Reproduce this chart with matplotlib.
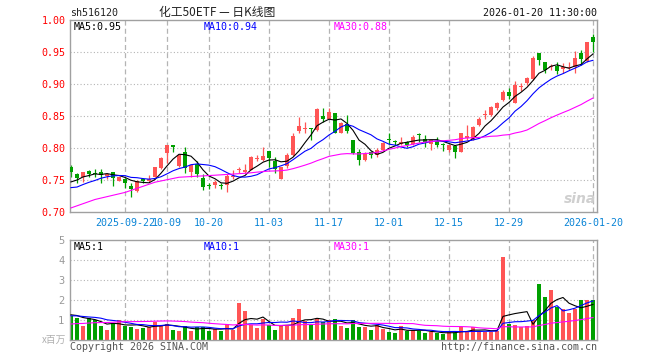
import matplotlib
matplotlib.use("Agg")
import matplotlib.pyplot as plt
import numpy as np
import pandas as pd

plt.rcParams["font.family"] = ["DejaVu Sans Mono", "Noto Sans CJK SC"]

code = "sh516120"
title = "化工50ETF — 日K线图"
stamp = "2026-01-20 11:30:00"

# daily candles, 2025-09-09 .. 2026-01-20
opens = [0.771, 0.760, 0.754, 0.764, 0.761, 0.762, 0.756, 0.763, 0.749, 0.751,
         0.741, 0.733, 0.751, 0.749, 0.755, 0.768, 0.792, 0.804, 0.772, 0.793,
         0.762, 0.775, 0.753, 0.742, 0.742, 0.742, 0.742, 0.754, 0.765, 0.762,
         0.766, 0.783, 0.781, 0.795, 0.780, 0.752, 0.772, 0.789, 0.826, 0.830,
         0.831, 0.828, 0.850, 0.846, 0.855, 0.824, 0.837, 0.813, 0.793, 0.781,
         0.793, 0.789, 0.797, 0.814, 0.810, 0.807, 0.810, 0.806, 0.822, 0.814,
         0.806, 0.811, 0.805, 0.797, 0.803, 0.794, 0.815, 0.814, 0.836, 0.851,
         0.852, 0.862, 0.875, 0.888, 0.871, 0.895, 0.901, 0.908, 0.949, 0.934,
         0.926, 0.928, 0.923, 0.925, 0.926, 0.948, 0.936, 0.973]
highs = [0.774, 0.761, 0.763, 0.766, 0.767, 0.767, 0.761, 0.763, 0.755, 0.753,
         0.746, 0.750, 0.753, 0.758, 0.771, 0.786, 0.805, 0.805, 0.791, 0.802,
         0.773, 0.780, 0.760, 0.745, 0.750, 0.746, 0.759, 0.766, 0.770, 0.775,
         0.787, 0.789, 0.801, 0.795, 0.786, 0.770, 0.792, 0.824, 0.848, 0.840,
         0.831, 0.862, 0.862, 0.862, 0.855, 0.840, 0.852, 0.813, 0.799, 0.793,
         0.795, 0.800, 0.810, 0.823, 0.813, 0.817, 0.811, 0.820, 0.824, 0.820,
         0.813, 0.817, 0.808, 0.805, 0.805, 0.824, 0.836, 0.834, 0.848, 0.860,
         0.866, 0.872, 0.891, 0.893, 0.904, 0.901, 0.911, 0.943, 0.949, 0.934,
         0.932, 0.935, 0.933, 0.935, 0.952, 0.953, 0.966, 0.978]
lows = [0.755, 0.745, 0.747, 0.755, 0.755, 0.745, 0.751, 0.741, 0.748, 0.737,
        0.724, 0.731, 0.745, 0.747, 0.754, 0.767, 0.776, 0.794, 0.770, 0.761,
        0.755, 0.754, 0.734, 0.736, 0.738, 0.736, 0.732, 0.751, 0.761, 0.761,
        0.765, 0.779, 0.779, 0.771, 0.761, 0.751, 0.768, 0.788, 0.824, 0.824,
        0.813, 0.827, 0.841, 0.845, 0.823, 0.823, 0.823, 0.791, 0.773, 0.780,
        0.784, 0.786, 0.796, 0.807, 0.805, 0.805, 0.802, 0.805, 0.810, 0.802,
        0.797, 0.802, 0.795, 0.794, 0.785, 0.793, 0.813, 0.813, 0.834, 0.845,
        0.850, 0.860, 0.873, 0.877, 0.870, 0.889, 0.899, 0.906, 0.930, 0.917,
        0.922, 0.916, 0.917, 0.922, 0.917, 0.930, 0.935, 0.950]
closes = [0.763, 0.753, 0.762, 0.760, 0.760, 0.758, 0.760, 0.753, 0.754, 0.745,
          0.736, 0.748, 0.748, 0.751, 0.771, 0.785, 0.805, 0.801, 0.789, 0.768,
          0.773, 0.760, 0.739, 0.741, 0.747, 0.741, 0.756, 0.756, 0.767, 0.765,
          0.786, 0.784, 0.787, 0.784, 0.767, 0.770, 0.789, 0.818, 0.834, 0.831,
          0.830, 0.861, 0.846, 0.857, 0.824, 0.839, 0.826, 0.792, 0.781, 0.791,
          0.789, 0.797, 0.808, 0.813, 0.809, 0.810, 0.805, 0.817, 0.821, 0.810,
          0.812, 0.805, 0.804, 0.804, 0.794, 0.823, 0.819, 0.833, 0.845, 0.852,
          0.864, 0.871, 0.888, 0.881, 0.899, 0.896, 0.910, 0.941, 0.938, 0.922,
          0.928, 0.921, 0.926, 0.926, 0.940, 0.939, 0.965, 0.965]
# volume in millions
volumes = [1.20, 1.12, 0.70, 1.08, 1.00, 0.70, 0.50, 0.87, 1.00, 0.70,
           0.67, 0.55, 0.62, 0.67, 0.92, 0.75, 0.80, 0.50, 0.47, 0.70,
           0.45, 0.63, 0.63, 0.47, 0.53, 0.47, 0.78, 0.50, 1.87, 1.47,
           0.75, 0.62, 1.03, 0.75, 0.50, 0.70, 0.70, 1.12, 1.55, 0.97,
           0.75, 1.03, 0.92, 1.00, 1.03, 0.70, 0.62, 1.00, 0.67, 0.67,
           0.50, 0.75, 0.53, 0.42, 0.33, 0.70, 0.45, 0.50, 0.45, 0.33,
           0.42, 0.33, 0.30, 0.42, 0.37, 0.63, 0.42, 0.63, 0.42, 0.42,
           0.42, 0.47, 4.17, 0.80, 0.75, 0.67, 0.70, 1.00, 2.80, 2.17,
           2.50, 1.63, 1.53, 1.37, 1.53, 2.00, 2.00, 2.00]

# sessions before the window, only feed the moving averages
pre_closes = [0.654, 0.663, 0.661, 0.661, 0.692, 0.694, 0.687, 0.688, 0.679, 0.640,
              0.652, 0.652, 0.655, 0.675, 0.727, 0.747, 0.743, 0.731, 0.752, 0.757,
              0.744, 0.723, 0.725, 0.731, 0.723, 0.738, 0.738, 0.749, 0.747]
pre_volumes = [0.45, 0.50, 0.40, 0.55, 0.45, 0.50, 0.40, 0.45, 0.50, 0.55,
               0.45, 0.50, 0.55, 0.60, 0.50, 0.65, 0.70, 0.80, 1.10, 1.25,
               1.15, 1.00, 1.35, 1.20, 1.10, 1.30, 1.20, 1.35, 1.25]

tick_pos = [9, 16, 23, 33, 43, 53, 63, 73, 87]
tick_labels = ["2025-09-22", "10-09", "10-20", "11-03", "11-17",
               "12-01", "12-15", "12-29", "2026-01-20"]

UP = "#ff5555"
DOWN = "#00a000"
GRID = "#b4b4b4"
W, H = 660, 360


def fx(px):
    return px / W


def fy(py):
    return 1 - py / H


def moving_averages(pre, vals, n):
    s = pd.Series(pre + vals).rolling(n).mean()
    return s.values[len(pre):]


x = np.arange(len(closes))
o = np.array(opens)
c = np.array(closes)
colors = [UP if cc >= oo else DOWN for oo, cc in zip(o, c)]

fig = plt.figure(figsize=(6.6, 3.6), dpi=100)
ax = fig.add_axes([fx(70), fy(212), fx(527), 192 / H])
axv = fig.add_axes([fx(70), fy(340), fx(527), 100 / H])

xlim = (-1 / 6, 526 / 6)

# price panel
for yv in [0.75, 0.80, 0.85, 0.90, 0.95]:
    ax.axhline(yv, color=GRID, lw=0.8, ls=(0, (1, 2)), zorder=0)
for p in tick_pos:
    ax.axvline(p, color=GRID, lw=0.9, ls=(0, (4, 2.5)), zorder=0)

ax.vlines(x, lows, highs, colors=colors, lw=0.9, zorder=2)
body = np.maximum(np.abs(c - o), 0.0016)
ax.bar(x, body, bottom=np.minimum(o, c), width=0.68, color=colors,
       linewidth=0, zorder=3)

ma5 = moving_averages(pre_closes, closes, 5)
ma10 = moving_averages(pre_closes, closes, 10)
ma30 = moving_averages(pre_closes, closes, 30)
ax.plot(x, ma5, color="black", lw=0.8, zorder=4)
ax.plot(x, ma10, color="#0000ff", lw=0.8, zorder=4)
ax.plot(x, ma30, color="#ff00ff", lw=0.8, zorder=4)

ax.set_xlim(*xlim)
ax.set_ylim(0.70, 1.00)
ax.set_yticks([0.70, 0.75, 0.80, 0.85, 0.90, 0.95, 1.00])
ax.set_yticklabels(["%.2f" % v for v in [0.70, 0.75, 0.80, 0.85, 0.90, 0.95, 1.00]])
ax.tick_params(axis="y", length=0, pad=3, labelsize=7.2, labelcolor="#ff0000")
ax.set_xticks(tick_pos)
ax.set_xticklabels(tick_labels)
ax.tick_params(axis="x", length=0, pad=4, labelsize=7.2, labelcolor="#0a84d6")

# volume panel
for yv in [1, 2, 3, 4]:
    axv.axhline(yv, color=GRID, lw=0.8, ls=(0, (1, 2)), zorder=0)
for p in tick_pos:
    axv.axvline(p, color=GRID, lw=0.9, ls=(0, (4, 2.5)), zorder=0)

vcolors = colors
axv.bar(x, volumes, width=0.78, color=vcolors, linewidth=0, zorder=2)
vma5 = moving_averages(pre_volumes, volumes, 5)
vma10 = moving_averages(pre_volumes, volumes, 10)
vma30 = moving_averages(pre_volumes, volumes, 30)
axv.plot(x, vma5, color="black", lw=0.8, zorder=4)
axv.plot(x, vma10, color="#0000ff", lw=0.8, zorder=4)
axv.plot(x, vma30, color="#ff00ff", lw=0.8, zorder=4)

axv.set_xlim(*xlim)
axv.set_ylim(0, 5)
axv.set_yticks([1, 2, 3, 4, 5])
axv.set_yticklabels(["1", "2", "3", "4", "5"])
axv.tick_params(axis="y", length=0, pad=4, labelsize=7.5, labelcolor="#999999")
axv.set_xticks([])

for a in (ax, axv):
    for sp in a.spines.values():
        sp.set_color("#a0a0a0")
        sp.set_linewidth(1.0)

# texts
fs = 7.2
fig.text(fx(70), fy(12.5), code, fontsize=fs, va="center", ha="left", color="#222222")
fig.text(fx(217), fy(12.5), title, fontsize=8.5, va="center", ha="center",
         color="#222222", family=["Noto Sans CJK SC", "DejaVu Sans"])
fig.text(fx(597), fy(12.5), stamp, fontsize=fs, va="center", ha="right", color="#111111")

fig.text(fx(74), fy(26.5), "MA5:%.2f" % ma5[-1], fontsize=fs, va="center", color="black")
fig.text(fx(204), fy(26.5), "MA10:%.2f" % ma10[-1], fontsize=fs, va="center", color="#0000ff")
fig.text(fx(334), fy(26.5), "MA30:%.2f" % ma30[-1], fontsize=fs, va="center", color="#ff00ff")

fig.text(fx(74), fy(246.5), "MA5:%d" % int(vma5[-1]), fontsize=fs, va="center", color="black")
fig.text(fx(204), fy(246.5), "MA10:%d" % int(vma10[-1]), fontsize=fs, va="center", color="#0000ff")
fig.text(fx(334), fy(246.5), "MA30:%d" % int(vma30[-1]), fontsize=fs, va="center", color="#ff00ff")

fig.text(fx(66), fy(340), "x百万", fontsize=7, va="center", ha="right", color="#b0b0b0",
         family=["Noto Sans CJK SC", "DejaVu Sans"])
fig.text(fx(70), fy(347), "Copyright 2026 SINA.COM", fontsize=fs, va="center",
         ha="left", color="#555555")
fig.text(fx(597), fy(347), "http://finance.sina.com.cn", fontsize=fs, va="center",
         ha="right", color="#555555")

# faint watermark
fig.text(fx(596), fy(199), "sina", fontsize=10, style="italic", weight="bold",
         ha="right", va="center", color="#cfcfcf", family="DejaVu Sans")

fig.savefig("out.png", dpi=100)
